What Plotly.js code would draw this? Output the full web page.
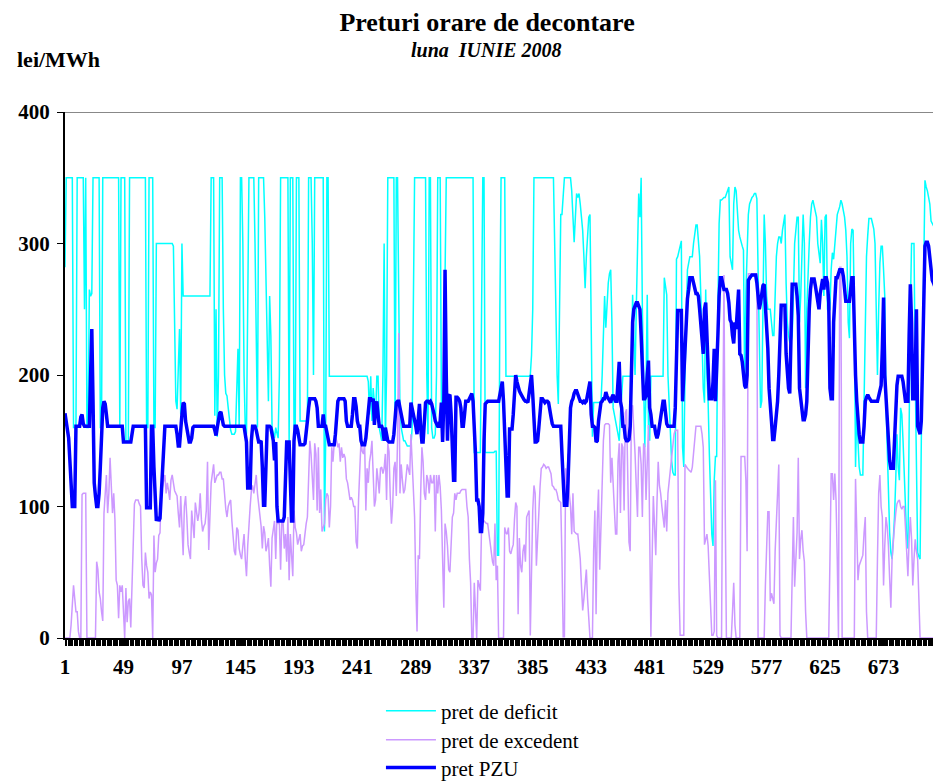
<!DOCTYPE html>
<html>
<head>
<meta charset="utf-8">
<script src="https://cdn.plot.ly/plotly-3.0.1.min.js"></script>
<style>html,body{margin:0;padding:0;background:#fff;}#chart{width:933px;height:782px;}</style>
</head>
<body>
<div id="chart"></div>
<script>
// X tick labels (hour index of June 2008, 720 hours)
const tickLabels = [1, 49, 97, 145, 193, 241, 289, 337, 385, 433, 481, 529, 577, 625, 673];

// pret de deficit (lei/MWh), hours 1..720
const pretDeficit = [
282,350,350,350,
350,350,350,160,160,160,350,350,350,350,350,350,250,350,160,160,265,260,262,350,350,350,350,
350,350,160,160,350,350,350,350,350,350,350,350,350,350,350,350,350,350,160,350,350,350,350,
150,150,150,350,350,350,350,350,350,350,350,350,350,350,350,350,350,160,160,350,350,350,350,
160,160,300,300,300,300,300,300,300,300,
300,300,300,300,300,300,298,215,180,174,205,235,
170,300,260,260,260,260,260,260,260,260,260,260,260,260,260,260,260,260,260,260,260,260,260,
260,260,350,350,350,169,250,153,200,350,350,350,250,200,186,184,175,165,158,155,155,155,157,
200,220,160,350,350,300,200,160,155,250,350,350,350,350,350,300,200,160,350,350,350,350,350,
320,280,240,180,260,230,160,155,152,
160,155,152,200,350,350,350,350,350,350,350,
149,350,350,350,160,155,350,350,350,165,165,165,165,165,165,165,350,350,350,300,200,350,350,350,
350,350,350,350,350,81,150,350,350,199,199,199,199,199,199,199,199,199,199,199,199,199,199,
199,199,199,199,199,199,199,199,199,199,199,199,199,199,199,199,199,199,195,170,199,165,190,
175,168,199,199,160,155,150,200,300,
150,200,350,350,350,350,350,350,160,350,350,227,
170,160,155,150,150,148,146,146,146,146,160,250,350,350,350,350,350,350,350,350,350,350,
200,155,350,350,160,152,152,155,200,350,350,350,180,160,200,300,350,350,350,350,350,350,350,350,
350,350,350,350,350,350,350,350,350,350,350,350,350,350,350,141,141,141,141,141,141,250,350,
350,141,141,141,141,141,141,141,141,
142,142,63,63,250,350,350,350,350,199,199,199,
199,199,199,199,199,199,199,199,199,199,199,199,199,199,199,199,199,200,215,250,350,350,350,
350,350,350,350,350,350,350,350,350,350,350,350,350,350,300,229,200,178,250,322,322,340,350,
350,350,350,350,350,340,320,301,320,338,335,338,330,322,310,290,266,290,310,320,322,250,153,
179,179,179,179,179,179,179,200,236,260,
236,260,270,277,280,240,175,170,166,160,155,150,
170,190,199,199,199,199,199,199,199,199,261,230,200,250,310,338,320,350,250,180,145,190,261,
160,150,199,199,199,199,199,199,199,199,199,199,199,274,265,261,200,175,150,135,126,124,124,
288,290,295,298,302,145,130,200,250,280,285,290,290,290,300,310,314,314,300,290,260,220,190,
179,265,200,179,140,100,79,70,120,
138,138,250,315,333,333,334,335,335,338,340,343,
290,285,280,330,343,340,320,310,305,300,298,295,190,263,300,322,330,333,335,336,338,338,334,
280,230,175,180,250,322,300,260,250,250,250,240,230,230,260,290,300,305,305,300,310,318,322,
270,240,230,225,225,230,260,300,310,320,320,240,260,300,322,300,190,250,280,300,320,330,333,
328,322,320,300,290,285,318,300,260,
320,322,250,248,250,280,293,288,300,315,322,325,328,
333,330,325,320,310,290,240,228,300,311,310,250,130,175,150,130,124,124,124,179,250,290,306,
319,319,319,315,311,300,250,200,250,285,298,298,280,260,179,140,100,80,65,60,75,92,120,
155,130,120,175,170,150,120,90,75,68,185,250,300,300,300,200,120,65,62,60,150,220,300,
348,343,340,335,330,317,315,313,
312,310,306,302,300,298
];

// pret de excedent (lei/MWh), hours 1..720
const pretExcedent = [
0,0,0,0,
0,10,25,40,30,20,20,5,0,0,109,110,110,110,0,0,0,0,0,0,0,0,58,
52,35,30,20,13,95,110,124,95,110,137,120,95,110,90,44,40,15,40,35,40,20,0,
38,12,28,30,8,40,65,102,105,105,105,102,100,60,40,38,65,55,50,30,35,33,0,
78,50,57,60,78,80,110,115,120,124,
110,118,112,105,120,124,118,112,110,108,95,84,
108,80,63,100,108,92,71,65,60,97,85,76,103,95,89,95,110,90,81,85,87,97,134,
67,90,118,125,132,118,122,124,124,126,126,121,121,108,98,92,100,103,105,89,75,66,63,
84,82,68,63,60,70,79,60,47,70,90,100,112,116,110,120,124,110,100,95,85,68,85,
80,66,70,76,55,39,76,85,89,
60,92,87,87,52,89,89,68,79,58,92,
44,79,66,47,97,84,80,71,75,79,66,70,71,80,87,92,118,150,140,124,105,148,140,97,
145,95,113,81,84,87,105,110,108,84,100,145,134,148,153,150,145,148,134,145,137,140,137,
121,118,110,105,107,105,100,100,73,68,105,130,150,142,140,148,97,129,118,134,140,150,129,
100,105,129,120,110,129,130,125,129,
140,105,148,142,108,87,100,129,134,108,150,232,
110,132,120,110,113,125,132,128,124,155,130,110,92,40,5,63,60,110,145,134,110,105,124,
120,110,124,118,118,124,81,124,110,124,115,97,60,23,87,81,70,52,50,70,92,95,110,
105,110,110,110,112,113,113,113,113,100,92,60,42,0,0,42,20,0,44,40,36,87,88,
89,88,87,87,80,70,63,58,55,
87,44,55,0,0,0,0,0,84,80,79,84,
66,64,68,71,90,103,100,18,76,55,50,66,71,58,92,95,97,2,66,97,116,110,55,
79,105,115,129,130,132,131,129,130,130,128,125,116,115,113,113,110,105,104,103,60,1,1,
129,118,140,110,100,79,110,81,80,79,79,70,60,40,21,30,39,52,30,10,0,0,0,
66,97,18,90,113,52,84,120,150,162,
163,163,163,162,118,137,120,100,79,79,134,148,
95,148,145,97,171,174,120,73,66,174,177,160,140,115,92,145,145,132,92,148,145,105,145,
162,80,1,60,108,85,63,103,134,116,110,100,92,84,105,81,110,120,129,140,150,155,158,
158,158,40,2,2,2,2,132,130,129,128,127,126,130,140,150,161,161,161,161,161,155,145,
71,75,79,70,50,20,2,2,5,
120,2,0,0,0,0,150,276,100,0,0,0,
0,0,20,42,10,0,0,0,0,138,138,138,138,120,66,277,277,277,277,277,277,277,277,
0,0,0,0,0,0,40,80,96,96,28,34,30,26,66,90,120,132,2,0,0,0,0,
0,0,0,0,0,47,92,39,57,80,137,60,75,82,66,58,20,0,0,0,0,0,0,
0,0,0,0,0,0,0,0,0,
0,0,0,0,60,125,125,105,125,105,60,0,282,282,0,
0,0,0,0,0,0,0,0,0,0,121,80,44,55,58,60,63,80,92,20,0,
0,0,0,0,0,0,0,60,110,124,100,92,40,70,92,85,70,45,23,60,75,85,95,
102,104,105,100,98,100,100,84,60,47,75,92,75,40,60,75,66,60,30,0,0,0,0,
0,0,0,0,0,0,0,0,
0,0,0,0,0,0
];

// pret PZU (lei/MWh), hours 1..720
const pretPZU = [
171,165,158,152,
135,120,100,100,100,161,161,161,161,168,170,163,161,161,161,161,161,200,235,180,118,108,100,
100,110,130,160,175,180,178,170,161,
161,161,161,161,161,161,161,161,161,161,161,161,
149,149,
149,149,149,149,149,155,161,161,161,161,161,161,161,161,161,161,161,99,99,99,99,161,161,
130,100,89,92,89,91,110,130,150,161,
161,161,161,161,161,161,161,161,161,155,146,146,
161,170,179,178,165,158,152,149,149,152,160,161,161,161,161,161,161,161,161,161,161,161,161,
161,161,161,161,161,158,154,160,165,171,172,168,162,161,161,161,161,161,161,161,161,161,161,
161,161,161,161,161,161,161,155,149,114,114,114,150,161,161,161,158,152,149,149,150,130,101,
101,140,161,161,161,160,155,150,135,
149,100,89,89,89,89,89,92,120,149,149,149,
120,89,89,150,161,161,158,150,147,147,147,147,148,161,165,175,182,182,182,182,182,180,175,
161,161,161,161,170,161,161,155,150,147,147,147,147,147,155,165,180,182,182,182,182,182,180,
165,161,161,161,161,170,182,182,176,165,161,161,150,147,147,147,152,161,170,182,182,180,182,
162,175,180,170,161,161,161,158,150,
160,155,150,149,149,149,149,155,170,179,180,180,
175,170,165,161,161,161,161,161,161,179,175,170,165,161,155,170,178,160,149,149,165,179,180,
180,179,180,178,175,170,165,162,161,161,165,179,149,180,280,200,150,184,185,170,150,120,120,
183,183,182,180,175,161,161,170,180,180,180,182,184,186,180,165,140,105,105,100,81,81,95,
150,178,179,180,180,180,180,180,180,
180,180,180,180,185,190,195,180,150,120,108,108,
159,159,159,170,190,200,195,190,188,186,184,182,181,180,180,179,185,195,200,185,165,149,149,
150,160,175,182,182,180,179,180,180,179,175,168,163,161,161,161,161,161,161,161,140,110,101,
101,101,120,150,175,180,182,186,188,188,185,182,180,180,179,180,179,180,185,190,195,170,161,
161,160,149,150,165,175,179,180,182,182,
187,184,182,180,179,183,185,182,180,180,200,210,
180,175,161,161,152,150,150,151,161,211,240,250,253,255,255,253,250,230,200,182,182,184,200,
211,175,170,161,161,161,155,152,155,161,165,175,180,180,170,163,161,161,161,161,161,161,175,
230,249,249,249,249,180,200,216,240,258,265,274,274,274,270,265,262,262,260,250,240,225,216,
250,255,230,200,182,182,182,195,220,
180,200,230,260,274,274,270,265,265,265,262,255,
242,240,230,224,240,235,250,265,216,215,210,200,192,190,200,272,274,275,276,276,276,276,270,
256,250,255,262,268,269,255,240,220,190,180,165,151,151,160,170,180,200,240,253,253,253,253,
216,200,190,186,250,269,269,269,269,260,245,190,180,172,166,166,170,180,220,250,265,273,273,
273,268,262,255,250,262,270,273,265,
274,274,270,255,190,182,182,240,265,274,274,278,280,
280,280,275,265,256,256,256,256,265,274,274,230,200,180,161,155,149,149,149,161,180,183,185,
183,181,180,180,180,180,180,180,184,190,192,220,259,200,182,170,150,135,129,129,129,150,178,
192,199,199,199,199,195,185,180,180,180,230,269,240,182,182,200,250,161,158,155,165,220,270,
298,301,301,298,290,280,272,270,
268,265,262,260,258,255
];

function hoursFor(arr) { const h = []; for (let i = 0; i < arr.length; i++) h.push(i + 1); return h; }

const serif = 'Liberation Serif, Times New Roman, serif';

const traces = [
  { type: 'scatter', mode: 'lines', name: 'pret de deficit', legend: 'legend', x: hoursFor(pretDeficit), y: pretDeficit,
    line: { color: '#00FFFF', width: 1.5 } },
  { type: 'scatter', mode: 'lines', name: 'pret de excedent', legend: 'legend2', x: hoursFor(pretExcedent), y: pretExcedent,
    line: { color: '#CC99FF', width: 1.5 } },
  { type: 'scatter', mode: 'lines', name: 'pret PZU', legend: 'legend3', x: hoursFor(pretPZU), y: pretPZU,
    line: { color: '#0000FF', width: 3.5 } }
];

function legendAt(yPaper) {
  return { x: 0.364, y: yPaper, xanchor: 'left', yanchor: 'middle', bgcolor: 'rgba(0,0,0,0)',
    font: { family: serif, size: 21, color: '#000' }, itemwidth: 50 };
}

const layout = {
  width: 933, height: 782,
  margin: { l: 65, r: 0, t: 112, b: 144, pad: 0, autoexpand: false },
  paper_bgcolor: '#fff', plot_bgcolor: '#fff',
  title: { text: '<b>Preturi orare de decontare</b>', font: { family: serif, size: 26, color: '#000' },
    x: 0.522, xanchor: 'center', y: 0.972, yanchor: 'middle', xref: 'container', yref: 'container' },
  showlegend: true,
  legend: legendAt(-0.1388),
  legend2: legendAt(-0.1939),
  legend3: legendAt(-0.2471),
  xaxis: {
    range: [1, 713.6], showgrid: false, zeroline: false, automargin: false,
    showline: true, linecolor: '#000', linewidth: 2,
    tickmode: 'array', tickvals: tickLabels, ticktext: tickLabels.map(String),
    ticks: 'outside', ticklen: 6, tickwidth: 1, tickcolor: '#000',
    tickfont: { family: serif, size: 21, color: '#000', weight: 'bold' },
    ticklabelstandoff: 3,
    minor: { dtick: 1, tick0: 0.5, ticks: 'outside', ticklen: 6, tickwidth: 1, tickcolor: '#000', showgrid: false }
  },
  yaxis: {
    range: [0, 400], showgrid: false, zeroline: false, automargin: false,
    showline: true, linecolor: '#000', linewidth: 2,
    tickmode: 'array', tickvals: [0, 100, 200, 300, 400],
    ticks: 'outside', ticklen: 6, tickwidth: 1, tickcolor: '#000',
    tickfont: { family: serif, size: 21, color: '#000', weight: 'bold' },
    ticklabelstandoff: 3
  },
  shapes: [
    { type: 'line', xref: 'paper', yref: 'y', x0: 0, x1: 1, y0: 400, y1: 400, line: { color: '#888888', width: 2 } }
  ],
  annotations: [
    { text: '<b><i>luna\u00a0 IUNIE 2008</i></b>', xref: 'paper', yref: 'paper', x: 0.486, y: 1.118,
      xanchor: 'center', yanchor: 'middle', showarrow: false, font: { family: serif, size: 20, color: '#000' } },
    { text: '<b>lei/MWh</b>', xref: 'paper', yref: 'paper', x: -0.0576, y: 1.099,
      xanchor: 'left', yanchor: 'middle', showarrow: false, font: { family: serif, size: 22, color: '#000' } }
  ]
};

Plotly.newPlot('chart', traces, layout, { displayModeBar: false, staticPlot: true });
</script>
</body>
</html>
